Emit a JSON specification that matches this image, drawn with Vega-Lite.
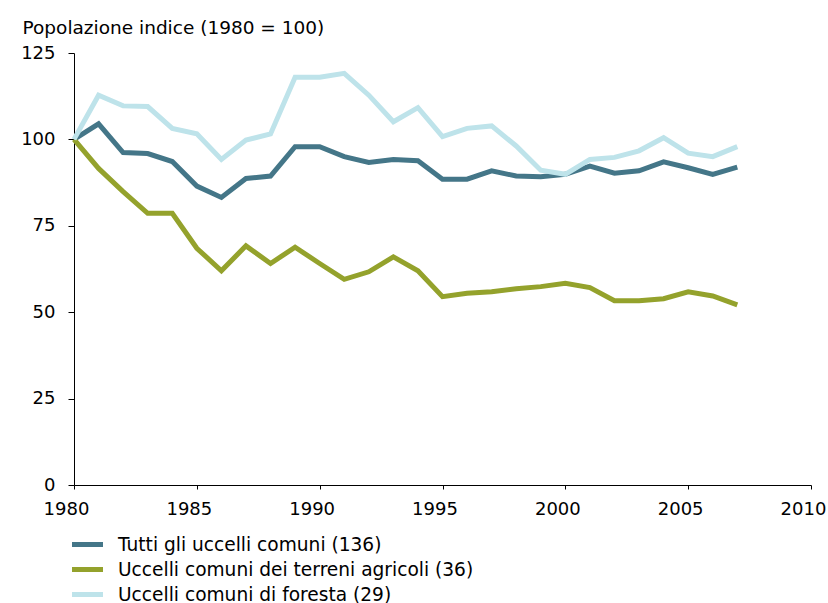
{
  "$schema": "https://vega.github.io/schema/vega-lite/v6.json",
  "autosize": {"type": "none"},
  "padding": {"left": 74, "top": 53, "right": 17, "bottom": 118},
  "width": 737,
  "height": 432,
  "background": "white",
  "config": {
    "view": {"stroke": null},
    "font": "DejaVu Sans"
  },
  "data": {
    "values": [
      {"anno": 1980, "serie": "Tutti gli uccelli comuni (136)", "indice": 100},
      {"anno": 1981, "serie": "Tutti gli uccelli comuni (136)", "indice": 104.5},
      {"anno": 1982, "serie": "Tutti gli uccelli comuni (136)", "indice": 96.2},
      {"anno": 1983, "serie": "Tutti gli uccelli comuni (136)", "indice": 95.9},
      {"anno": 1984, "serie": "Tutti gli uccelli comuni (136)", "indice": 93.6},
      {"anno": 1985, "serie": "Tutti gli uccelli comuni (136)", "indice": 86.5},
      {"anno": 1986, "serie": "Tutti gli uccelli comuni (136)", "indice": 83.2},
      {"anno": 1987, "serie": "Tutti gli uccelli comuni (136)", "indice": 88.7},
      {"anno": 1988, "serie": "Tutti gli uccelli comuni (136)", "indice": 89.4},
      {"anno": 1989, "serie": "Tutti gli uccelli comuni (136)", "indice": 97.9},
      {"anno": 1990, "serie": "Tutti gli uccelli comuni (136)", "indice": 97.9},
      {"anno": 1991, "serie": "Tutti gli uccelli comuni (136)", "indice": 95.0},
      {"anno": 1992, "serie": "Tutti gli uccelli comuni (136)", "indice": 93.3},
      {"anno": 1993, "serie": "Tutti gli uccelli comuni (136)", "indice": 94.2},
      {"anno": 1994, "serie": "Tutti gli uccelli comuni (136)", "indice": 93.8},
      {"anno": 1995, "serie": "Tutti gli uccelli comuni (136)", "indice": 88.5},
      {"anno": 1996, "serie": "Tutti gli uccelli comuni (136)", "indice": 88.5},
      {"anno": 1997, "serie": "Tutti gli uccelli comuni (136)", "indice": 90.9},
      {"anno": 1998, "serie": "Tutti gli uccelli comuni (136)", "indice": 89.4},
      {"anno": 1999, "serie": "Tutti gli uccelli comuni (136)", "indice": 89.2},
      {"anno": 2000, "serie": "Tutti gli uccelli comuni (136)", "indice": 89.9},
      {"anno": 2001, "serie": "Tutti gli uccelli comuni (136)", "indice": 92.3},
      {"anno": 2002, "serie": "Tutti gli uccelli comuni (136)", "indice": 90.2},
      {"anno": 2003, "serie": "Tutti gli uccelli comuni (136)", "indice": 90.9},
      {"anno": 2004, "serie": "Tutti gli uccelli comuni (136)", "indice": 93.5},
      {"anno": 2005, "serie": "Tutti gli uccelli comuni (136)", "indice": 91.8},
      {"anno": 2006, "serie": "Tutti gli uccelli comuni (136)", "indice": 89.9},
      {"anno": 2007, "serie": "Tutti gli uccelli comuni (136)", "indice": 92.0},

      {"anno": 1980, "serie": "Uccelli comuni dei terreni agricoli (36)", "indice": 100},
      {"anno": 1981, "serie": "Uccelli comuni dei terreni agricoli (36)", "indice": 91.6},
      {"anno": 1982, "serie": "Uccelli comuni dei terreni agricoli (36)", "indice": 84.9},
      {"anno": 1983, "serie": "Uccelli comuni dei terreni agricoli (36)", "indice": 78.6},
      {"anno": 1984, "serie": "Uccelli comuni dei terreni agricoli (36)", "indice": 78.6},
      {"anno": 1985, "serie": "Uccelli comuni dei terreni agricoli (36)", "indice": 68.5},
      {"anno": 1986, "serie": "Uccelli comuni dei terreni agricoli (36)", "indice": 62.0},
      {"anno": 1987, "serie": "Uccelli comuni dei terreni agricoli (36)", "indice": 69.2},
      {"anno": 1988, "serie": "Uccelli comuni dei terreni agricoli (36)", "indice": 64.1},
      {"anno": 1989, "serie": "Uccelli comuni dei terreni agricoli (36)", "indice": 68.8},
      {"anno": 1990, "serie": "Uccelli comuni dei terreni agricoli (36)", "indice": 64.1},
      {"anno": 1991, "serie": "Uccelli comuni dei terreni agricoli (36)", "indice": 59.5},
      {"anno": 1992, "serie": "Uccelli comuni dei terreni agricoli (36)", "indice": 61.7},
      {"anno": 1993, "serie": "Uccelli comuni dei terreni agricoli (36)", "indice": 66.0},
      {"anno": 1994, "serie": "Uccelli comuni dei terreni agricoli (36)", "indice": 62.0},
      {"anno": 1995, "serie": "Uccelli comuni dei terreni agricoli (36)", "indice": 54.5},
      {"anno": 1996, "serie": "Uccelli comuni dei terreni agricoli (36)", "indice": 55.5},
      {"anno": 1997, "serie": "Uccelli comuni dei terreni agricoli (36)", "indice": 55.9},
      {"anno": 1998, "serie": "Uccelli comuni dei terreni agricoli (36)", "indice": 56.8},
      {"anno": 1999, "serie": "Uccelli comuni dei terreni agricoli (36)", "indice": 57.4},
      {"anno": 2000, "serie": "Uccelli comuni dei terreni agricoli (36)", "indice": 58.4},
      {"anno": 2001, "serie": "Uccelli comuni dei terreni agricoli (36)", "indice": 57.1},
      {"anno": 2002, "serie": "Uccelli comuni dei terreni agricoli (36)", "indice": 53.3},
      {"anno": 2003, "serie": "Uccelli comuni dei terreni agricoli (36)", "indice": 53.3},
      {"anno": 2004, "serie": "Uccelli comuni dei terreni agricoli (36)", "indice": 53.9},
      {"anno": 2005, "serie": "Uccelli comuni dei terreni agricoli (36)", "indice": 55.9},
      {"anno": 2006, "serie": "Uccelli comuni dei terreni agricoli (36)", "indice": 54.7},
      {"anno": 2007, "serie": "Uccelli comuni dei terreni agricoli (36)", "indice": 52.1},

      {"anno": 1980, "serie": "Uccelli comuni di foresta (29)", "indice": 100},
      {"anno": 1981, "serie": "Uccelli comuni di foresta (29)", "indice": 112.8},
      {"anno": 1982, "serie": "Uccelli comuni di foresta (29)", "indice": 109.7},
      {"anno": 1983, "serie": "Uccelli comuni di foresta (29)", "indice": 109.5},
      {"anno": 1984, "serie": "Uccelli comuni di foresta (29)", "indice": 103.2},
      {"anno": 1985, "serie": "Uccelli comuni di foresta (29)", "indice": 101.6},
      {"anno": 1986, "serie": "Uccelli comuni di foresta (29)", "indice": 94.2},
      {"anno": 1987, "serie": "Uccelli comuni di foresta (29)", "indice": 99.8},
      {"anno": 1988, "serie": "Uccelli comuni di foresta (29)", "indice": 101.6},
      {"anno": 1989, "serie": "Uccelli comuni di foresta (29)", "indice": 118.0},
      {"anno": 1990, "serie": "Uccelli comuni di foresta (29)", "indice": 118.0},
      {"anno": 1991, "serie": "Uccelli comuni di foresta (29)", "indice": 119.1},
      {"anno": 1992, "serie": "Uccelli comuni di foresta (29)", "indice": 112.8},
      {"anno": 1993, "serie": "Uccelli comuni di foresta (29)", "indice": 105.1},
      {"anno": 1994, "serie": "Uccelli comuni di foresta (29)", "indice": 109.2},
      {"anno": 1995, "serie": "Uccelli comuni di foresta (29)", "indice": 100.8},
      {"anno": 1996, "serie": "Uccelli comuni di foresta (29)", "indice": 103.2},
      {"anno": 1997, "serie": "Uccelli comuni di foresta (29)", "indice": 103.9},
      {"anno": 1998, "serie": "Uccelli comuni di foresta (29)", "indice": 98.1},
      {"anno": 1999, "serie": "Uccelli comuni di foresta (29)", "indice": 91.1},
      {"anno": 2000, "serie": "Uccelli comuni di foresta (29)", "indice": 89.9},
      {"anno": 2001, "serie": "Uccelli comuni di foresta (29)", "indice": 94.2},
      {"anno": 2002, "serie": "Uccelli comuni di foresta (29)", "indice": 94.8},
      {"anno": 2003, "serie": "Uccelli comuni di foresta (29)", "indice": 96.7},
      {"anno": 2004, "serie": "Uccelli comuni di foresta (29)", "indice": 100.5},
      {"anno": 2005, "serie": "Uccelli comuni di foresta (29)", "indice": 96.0},
      {"anno": 2006, "serie": "Uccelli comuni di foresta (29)", "indice": 95.0},
      {"anno": 2007, "serie": "Uccelli comuni di foresta (29)", "indice": 97.9}
    ]
  },
  "mark": {"type": "line", "strokeWidth": 5, "strokeJoin": "miter", "strokeCap": "butt"},
  "encoding": {
    "x": {
      "field": "anno",
      "type": "quantitative",
      "scale": {"domain": [1980, 2010], "nice": false, "zero": false},
      "axis": {
        "values": [1980, 1985, 1990, 1995, 2000, 2005, 2010],
        "format": "d",
        "title": null,
        "grid": false,
        "domainColor": "black",
        "domainWidth": 1,
        "tickColor": "black",
        "tickSize": 4,
        "labelFont": "DejaVu Sans",
        "labelFontSize": 18,
        "labelColor": "black",
        "labelPadding": 11,
        "labelOffset": -8,
        "labelFlush": false,
        "labelOverlap": false
      }
    },
    "y": {
      "field": "indice",
      "type": "quantitative",
      "scale": {"domain": [0, 125], "nice": false},
      "axis": {
        "values": [0, 25, 50, 75, 100, 125],
        "title": "Popolazione indice (1980 = 100)",
        "titleAngle": 0,
        "titleAlign": "left",
        "titleBaseline": "alphabetic",
        "titleX": -52,
        "titleY": -20,
        "titleFont": "DejaVu Sans",
        "titleFontSize": 18.5,
        "titleFontWeight": "normal",
        "titleColor": "black",
        "grid": false,
        "domainColor": "black",
        "domainWidth": 1,
        "tickColor": "black",
        "tickSize": 6,
        "labelFont": "DejaVu Sans",
        "labelFontSize": 18,
        "labelColor": "black",
        "labelPadding": 13
      }
    },
    "color": {
      "field": "serie",
      "type": "nominal",
      "scale": {
        "domain": ["Tutti gli uccelli comuni (136)", "Uccelli comuni dei terreni agricoli (36)", "Uccelli comuni di foresta (29)"],
        "range": ["#447688", "#94a22c", "#bee3ea"]
      },
      "legend": {
        "title": null,
        "orient": "none",
        "legendX": 1,
        "legendY": 479,
        "direction": "vertical",
        "symbolType": "M-1.55,0H1.55",
        "symbolStrokeWidth": 5,
        "symbolSize": 400,
        "labelFont": "DejaVu Sans",
        "labelFontSize": 18.6,
        "labelColor": "black",
        "labelLimit": 0,
        "labelOffset": 18,
        "rowPadding": 2
      }
    }
  }
}
